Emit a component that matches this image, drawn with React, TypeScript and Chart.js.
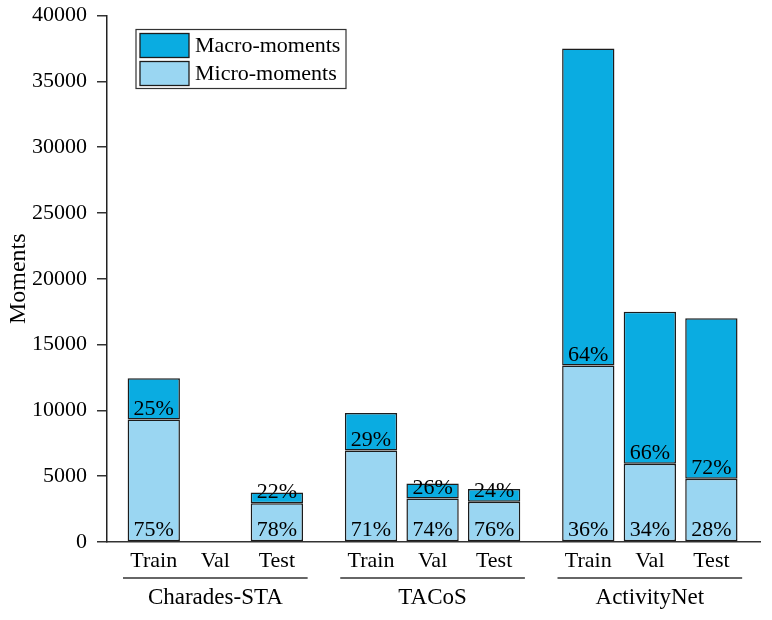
import React, { useEffect, useRef } from "react";
import { Chart, registerables } from "chart.js";

Chart.register(...registerables);

const categories = ["Train", "Val", "Test", "Train", "Val", "Test", "Train", "Val", "Test"];
const groups = ["Charades-STA", "TACoS", "ActivityNet"];
const microValues = [9300, null, 2950, 6950, 3300, 3050, 13400, 5950, 4800];
const macroValues = [3150, null, 820, 2850, 1150, 970, 24100, 11550, 12200];
const microPct = ["75%", "", "78%", "71%", "74%", "76%", "36%", "34%", "28%"];
const macroPct = ["25%", "", "22%", "29%", "26%", "24%", "64%", "66%", "72%"];
const yTicks = [0, 5000, 10000, 15000, 20000, 25000, 30000, 35000, 40000];

const GROUP_GAP = 0.53;
const PER_GROUP = 3;
const FONT = "'Liberation Serif', 'Times New Roman', serif";
const MACRO_COLOR = "#0aace1";
const MICRO_COLOR = "#9ad6f2";
const EDGE = "#1c1c1c";

const xPos = categories.map((_, i) => i + Math.floor(i / PER_GROUP) * GROUP_GAP);

const overlayPlugin = {
  id: "overlay",
  afterDraw(chart: any) {
    const { ctx, chartArea } = chart;
    const xs = chart.scales.x;
    const ys = chart.scales.y;
    ctx.save();
    ctx.font = `22px ${FONT}`;
    ctx.fillStyle = "#000";
    ctx.textAlign = "center";
    ctx.textBaseline = "alphabetic";
    // percent labels
    categories.forEach((_, i) => {
      const mv = microValues[i];
      const Mv = macroValues[i];
      if (mv == null || Mv == null) return;
      const px = xs.getPixelForValue(xPos[i]);
      const base = ys.getPixelForValue(0);
      const boundary = ys.getPixelForValue(mv);
      ctx.fillText(microPct[i], px, base - 6);
      ctx.fillText(macroPct[i], px, boundary - 5);
    });
    // group labels and underlines
    const base = ys.getPixelForValue(0);
    ctx.font = `23px ${FONT}`;
    groups.forEach((g, gi) => {
      const mid = xPos[gi * PER_GROUP + 1];
      const cx = xs.getPixelForValue(mid);
      const l = xs.getPixelForValue(mid - 1.5);
      const r = xs.getPixelForValue(mid + 1.5);
      ctx.strokeStyle = "#333";
      ctx.lineWidth = 1.5;
      ctx.beginPath();
      ctx.moveTo(l, base + 36);
      ctx.lineTo(r, base + 36);
      ctx.stroke();
      ctx.fillText(g, cx, base + 62);
    });
    // legend
    ctx.font = `22px ${FONT}`;
    const lx = chartArea.left + 29;
    const ly = chartArea.top + 14;
    ctx.strokeStyle = "#333";
    ctx.lineWidth = 1.2;
    ctx.fillStyle = "#fff";
    ctx.fillRect(lx, ly, 210, 59);
    ctx.strokeRect(lx, ly, 210, 59);
    const items = [chart.data.datasets[1], chart.data.datasets[0]];
    items.forEach((ds: any, k: number) => {
      const sy = ly + 4 + k * 28;
      ctx.fillStyle = ds.backgroundColor;
      ctx.fillRect(lx + 4, sy, 49, 24);
      ctx.strokeStyle = EDGE;
      ctx.lineWidth = 1.3;
      ctx.strokeRect(lx + 4, sy, 49, 24);
      ctx.fillStyle = "#000";
      ctx.textAlign = "left";
      ctx.textBaseline = "middle";
      ctx.fillText(ds.label, lx + 59, sy + 13);
    });
    ctx.restore();
  },
};

export default function App() {
  const ref = useRef<HTMLCanvasElement | null>(null);
  useEffect(() => {
    document.body.style.margin = "0";
    const chart = new Chart(ref.current as HTMLCanvasElement, {
      type: "bar",
      data: {
        datasets: [
          {
            label: "Micro-moments",
            data: microValues.map((v, i) => ({ x: xPos[i], y: v })) as any,
            backgroundColor: MICRO_COLOR,
            borderColor: EDGE,
            borderWidth: 1.5,
            borderSkipped: false,
            barPercentage: 0.85,
            categoryPercentage: 1,
          },
          {
            label: "Macro-moments",
            data: macroValues.map((v, i) => ({ x: xPos[i], y: v })) as any,
            backgroundColor: MACRO_COLOR,
            borderColor: EDGE,
            borderWidth: 1.5,
            borderSkipped: false,
            barPercentage: 0.85,
            categoryPercentage: 1,
          },
        ],
      },
      options: {
        animation: false,
        responsive: false,
        layout: { padding: { top: 0, right: 12, left: 0, bottom: 0 } },
        plugins: { legend: { display: false }, tooltip: { enabled: false } },
        scales: {
          x: {
            type: "linear",
            stacked: true,
            offset: false,
            min: -0.76,
            max: 9.85,
            grid: { display: false },
            border: { display: true, color: "#333", width: 1.5 },
            afterBuildTicks: (scale: any) => {
              scale.ticks = xPos.map((v) => ({ value: v }));
            },
            afterFit: (scale: any) => {
              scale.height = 78;
            },
            ticks: {
              autoSkip: false,
              maxRotation: 0,
              padding: 0,
              color: "#000",
              font: { family: FONT, size: 22, lineHeight: 1 },
              callback: (_v: any, i: number) => categories[i],
            },
          },
          y: {
            stacked: true,
            min: 0,
            max: 40000,
            afterBuildTicks: (scale: any) => {
              scale.ticks = yTicks.map((v) => ({ value: v }));
            },
            afterFit: (scale: any) => {
              scale.width = 107;
            },
            grid: {
              drawOnChartArea: false,
              drawTicks: true,
              tickLength: 10,
              color: "#333",
              lineWidth: 1.5,
            },
            border: { display: true, color: "#222", width: 1.5 },
            ticks: {
              padding: 10,
              color: "#000",
              font: { family: FONT, size: 22, lineHeight: 0.5 },
              callback: (v: any) => String(v),
            },
            title: {
              display: true,
              text: "Moments",
              color: "#000",
              font: { family: FONT, size: 24 },
              padding: { top: 4, bottom: 0 },
            },
          },
        },
      },
      plugins: [overlayPlugin],
    });
    return () => chart.destroy();
  }, []);
  return (
    <div style={{ width: 772, height: 620 }}>
      <canvas ref={ref} width={772} height={620} />
    </div>
  );
}
